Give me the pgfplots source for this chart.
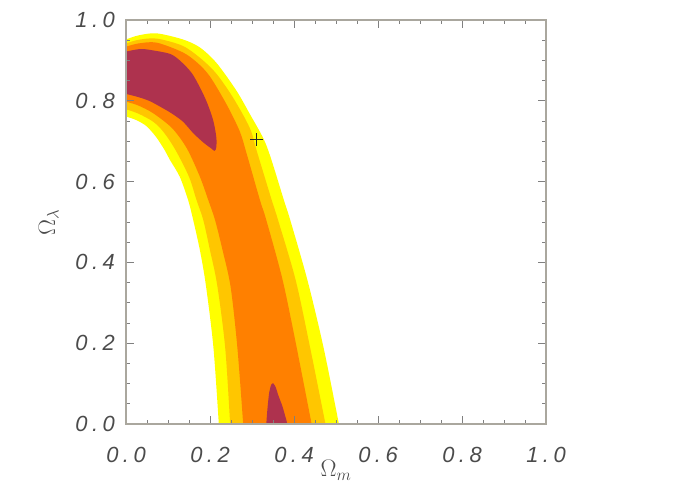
\RequirePackage{fix-cm}
\documentclass[border=0pt]{standalone}
\usepackage{fontspec}
\usepackage{pgfplots}
\pgfplotsset{compat=1.18}
\newfontfamily\tickfont{Liberation Sans}
\definecolor{cyel}{RGB}{255,255,0}
\definecolor{cgold}{RGB}{255,198,0}
\definecolor{corg}{RGB}{255,128,0}
\definecolor{cred}{RGB}{174,50,78}
\definecolor{axgray}{RGB}{170,167,158}
\definecolor{tickgray}{RGB}{75,75,75}
\newcommand\tk[2]{\mbox{\fontsize{22}{26}\selectfont\tickfont\itshape #1\hspace{4.5bp}.\hspace{4.5bp}#2}}
\begin{document}
\begin{tikzpicture}
\begin{axis}[
  scale only axis, width=420bp, height=404bp,
  xmin=0, xmax=1, ymin=0, ymax=1,
  axis on top,
  xtick={0,0.2,0.4,0.6,0.8,1},
  ytick={0,0.2,0.4,0.6,0.8,1},
  xticklabels={\tk00,\tk02,\tk04,\tk06,\tk08,\tk10},
  yticklabels={\tk00,\tk02,\tk04,\tk06,\tk08,\tk10},
  minor tick num=3,
  tick align=inside,
  major tick length=8bp, minor tick length=4bp,
  axis line style={axgray, line width=1.2bp},
  tick style={color=gray, line width=0.8bp},
  tick label style={text=tickgray},
  xticklabel style={inner sep=0pt, yshift=-23bp},
  yticklabel style={inner sep=0pt, xshift=-11bp},
  xlabel={\fontsize{24}{28}\selectfont$\Omega_m$},
  ylabel={\fontsize{24}{28}\selectfont$\Omega_\lambda$},
  label style={text=tickgray},
  xlabel style={at={(axis description cs:0.5,-0.089)}, anchor=north, inner sep=0pt},
  ylabel style={at={(axis description cs:-0.16,0.5)}, anchor=south, inner sep=0pt},
]
% yellow (outer) region
\addplot[fill=cyel, draw=none, smooth, tension=0.5] coordinates {
 (-0.03,0.942) (0,0.952) (0.03,0.962) (0.073,0.967) (0.135,0.952) (0.176,0.932) (0.216,0.893) (0.263,0.825) (0.295,0.767) (0.327,0.707) (0.345,0.658) (0.376,0.554) (0.391,0.505) (0.432,0.356) (0.470,0.191) (0.507,0) (0.515,-0.04)
 (0.223,-0.04) (0.221,0) (0.208,0.191) (0.190,0.345) (0.176,0.43) (0.160,0.505) (0.148,0.554) (0.128,0.612) (0.105,0.653) (0.092,0.678) (0.072,0.710) (0.049,0.737) (0.025,0.752) (0,0.761) (-0.03,0.770)
} -- cycle;
% gold region
\addplot[fill=cgold, draw=none, smooth, tension=0.5] coordinates {
 (-0.03,0.932) (0,0.942) (0.03,0.951) (0.073,0.954) (0.135,0.936) (0.180,0.903) (0.216,0.866) (0.256,0.806) (0.295,0.732) (0.313,0.670) (0.347,0.554) (0.362,0.505) (0.404,0.356) (0.438,0.191) (0.475,0) (0.483,-0.04)
 (0.250,-0.04) (0.248,0) (0.236,0.191) (0.217,0.345) (0.200,0.43) (0.184,0.505) (0.168,0.554) (0.150,0.612) (0.118,0.678) (0.090,0.722) (0.065,0.748) (0.030,0.768) (0,0.779) (-0.03,0.788)
} -- cycle;
% orange region
\addplot[fill=corg, draw=none, smooth, tension=0.5] coordinates {
 (-0.03,0.925) (0,0.934) (0.03,0.942) (0.073,0.944) (0.135,0.920) (0.170,0.894) (0.200,0.860) (0.240,0.790) (0.271,0.724) (0.287,0.670) (0.319,0.554) (0.334,0.505) (0.373,0.356) (0.406,0.191) (0.442,0) (0.450,-0.04)
 (0.281,-0.04) (0.279,0) (0.265,0.191) (0.249,0.340) (0.230,0.43) (0.212,0.505) (0.196,0.554) (0.176,0.612) (0.145,0.682) (0.110,0.732) (0.065,0.769) (0.030,0.788) (0,0.798) (-0.03,0.806)
} -- cycle;
% red (inner) region, top
\addplot[fill=cred, draw=none, smooth, tension=0.5] coordinates {
 (-0.03,0.915) (0,0.922) (0.033,0.928) (0.057,0.926) (0.105,0.916) (0.130,0.898) (0.157,0.868) (0.180,0.825) (0.195,0.790) (0.208,0.750) (0.215,0.710) (0.215,0.685) (0.211,0.676) (0.203,0.682) (0.184,0.697) (0.160,0.720) (0.136,0.748) (0.110,0.768) (0.089,0.781) (0.057,0.799) (0.030,0.809) (0,0.817) (-0.03,0.825)
} -- cycle;
% red (inner) region, bottom
\addplot[fill=cred, draw=none, smooth, tension=0.5] coordinates {
 (0.332,-0.03) (0.334,0) (0.337,0.04) (0.341,0.078) (0.346,0.098) (0.350,0.101) (0.356,0.092) (0.363,0.070) (0.372,0.045) (0.379,0.020) (0.384,0) (0.386,-0.03)
} -- cycle;
% best fit
\addplot[only marks, mark=+, mark size=6.5bp, mark options={line width=0.9bp, color=black!85}] coordinates {(0.311,0.704)};
\end{axis}
\pgfresetboundingbox
\path (current axis.south west) +(-126bp,-76bp) rectangle +(574bp,424bp);
\end{tikzpicture}
\end{document}
